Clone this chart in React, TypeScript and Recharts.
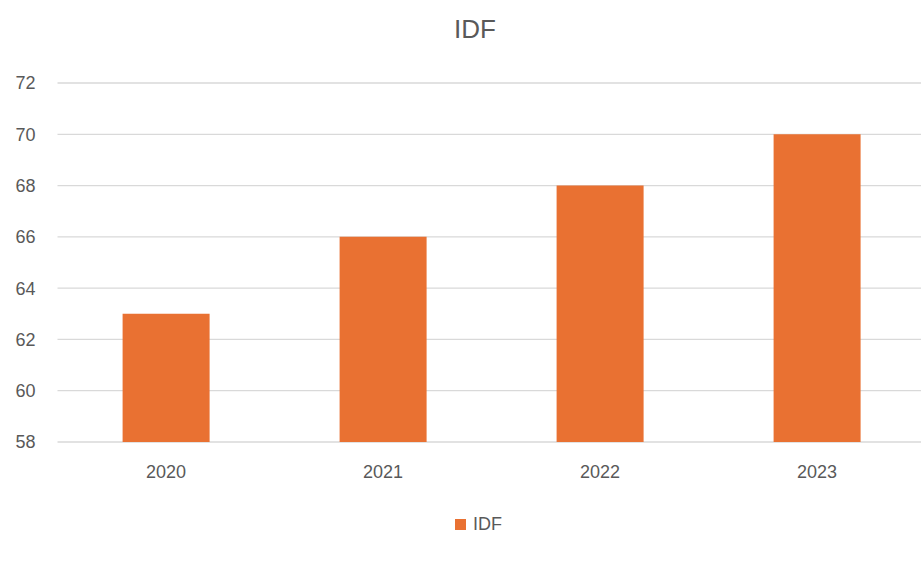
import React from 'react';
import { BarChart, Bar, XAxis, YAxis, CartesianGrid } from 'recharts';

const years = ['2020', '2021', '2022', '2023'];
const idfValues = [63, 66, 68, 70];
const yTicks = [58, 60, 62, 64, 66, 68, 70, 72];

const chartData = years.map((year, i) => ({ year, IDF: idfValues[i] }));

const textColor = '#595959';
const barColor = '#E97132';
const font = '"Liberation Sans", Arial, sans-serif';

const App: React.FC = () => {
  return (
    <div
      style={{
        position: 'absolute',
        left: 0,
        top: 0,
        width: 921,
        height: 561,
        overflow: 'hidden',
        background: '#fff',
        fontFamily: font,
      }}
    >
      <div
        style={{
          position: 'absolute',
          top: 14,
          left: 375,
          width: 200,
          textAlign: 'center',
          fontSize: 26,
          color: textColor,
        }}
      >
        IDF
      </div>
      <div style={{ position: 'absolute', left: 0, top: 0 }}>
        <BarChart
          width={930}
          height={500}
          data={chartData}
          margin={{ top: 83, right: 4.5, left: 0, bottom: 28 }}
          barCategoryGap="30%"
        >
          <CartesianGrid vertical={false} stroke="#d9d9d9" strokeWidth={1.3} />
          <XAxis
            dataKey="year"
            height={30}
            axisLine={false}
            tickLine={false}
            tickSize={0}
            tickMargin={23}
            tick={{ fill: textColor, fontSize: 18, fontFamily: font }}
          />
          <YAxis
            width={57.5}
            domain={[58, 72]}
            ticks={yTicks}
            axisLine={false}
            tickLine={false}
            tickSize={0}
            tickMargin={22}
            tick={{ fill: textColor, fontSize: 18, fontFamily: font }}
          />
          <Bar dataKey="IDF" fill={barColor} isAnimationActive={false} />
        </BarChart>
      </div>
      <div
        style={{
          position: 'absolute',
          top: 514,
          left: 455,
          display: 'flex',
          alignItems: 'center',
          fontSize: 18,
          color: textColor,
        }}
      >
        <span style={{ width: 11, height: 11, background: barColor, marginRight: 7 }} />
        <span>IDF</span>
      </div>
    </div>
  );
};

export default App;
